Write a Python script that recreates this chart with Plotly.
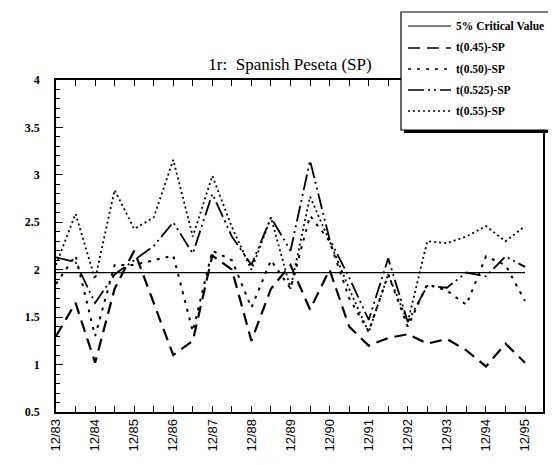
import plotly.graph_objects as go

periods = ["12/83","6/84","12/84","6/85","12/85","6/86","12/86","6/87","12/87","6/88","12/88","6/89",
           "12/89","6/90","12/90","6/91","12/91","6/92","12/92","6/93","12/93","6/94","12/94","6/95","12/95"]
tick_labels = [p if p.startswith("12/") else "" for p in periods]

series_names = ["5% Critical Value", "t(0.45)-SP", "t(0.50)-SP", "t(0.525)-SP", "t(0.55)-SP"]
critical = [1.97] * len(periods)
t045 = [1.30,1.65,1.02,1.80,2.20,1.65,1.10,1.25,2.15,2.00,1.25,1.80,2.05,1.58,2.00,1.40,1.20,1.28,1.32,1.22,1.27,1.15,0.98,1.22,1.02]
t050 = [1.85,2.15,1.30,2.05,2.05,2.10,2.15,1.35,2.20,2.10,1.60,2.10,1.80,2.57,2.30,1.70,1.35,1.95,1.40,1.85,1.78,1.63,2.14,2.05,1.67]
t0525 = [2.13,2.08,1.65,1.95,2.10,2.25,2.50,2.17,2.80,2.35,2.05,2.55,2.20,3.15,2.32,1.92,1.47,2.12,1.45,1.83,1.81,1.97,1.93,2.14,2.03]
t055 = [2.05,2.59,1.90,2.84,2.43,2.55,3.16,2.35,2.99,2.45,2.00,2.55,1.80,2.77,2.30,1.80,1.34,1.95,1.45,2.30,2.28,2.35,2.46,2.30,2.46]

styles = [
    dict(color="black", width=1.2),
    dict(color="black", width=2.2, dash="12px,7px"),
    dict(color="black", width=2, dash="3px,6px"),
    dict(color="black", width=1.8, dash="16px,4px,2px,4px,2px,4px"),
    dict(color="black", width=1.8, dash="2px,3px"),
]
data = [critical, t045, t050, t0525, t055]

x = list(range(len(periods)))

fig = go.Figure()
for name, ys, st in zip(series_names, data, styles):
    fig.add_trace(go.Scatter(x=x, y=ys, mode="lines", name=name, line=st, showlegend=False))

W, H = 556, 465
L, R, T, B = 48, 21, 72, 61
pw, ph = W - L - R, H - T - B

def px(pxv):
    return (pxv - L) / pw

def py(pyv):
    return (H - B - pyv) / ph

# manual legend box with drop shadow
fig.add_shape(type="rect", xref="paper", yref="paper",
              x0=px(396), x1=px(556), y0=py(125), y1=py(8),
              fillcolor="black", line=dict(width=0), layer="above")
fig.add_shape(type="rect", xref="paper", yref="paper",
              x0=px(393), x1=px(553), y0=py(122), y1=py(4),
              fillcolor="white", line=dict(color="black", width=1.2), layer="above")
rows = [18, 40, 61, 82, 103]
for name, st, ry in zip(series_names, styles, rows):
    fig.add_shape(type="line", xref="paper", yref="paper",
                  x0=px(400), x1=px(443), y0=py(ry), y1=py(ry),
                  line=dict(color="black", width=min(st["width"], 1.6), dash=st.get("dash", "solid")),
                  layer="above")
    fig.add_annotation(xref="paper", yref="paper", x=px(446), y=py(ry), text=name,
                       showarrow=False, xanchor="left", yanchor="middle",
                       font=dict(family="Liberation Serif", size=11.5, color="black", weight="bold"))

fig.update_layout(
    width=W, height=H,
    margin=dict(l=L, r=R, t=T, b=B),
    paper_bgcolor="white", plot_bgcolor="white",
    title=dict(text="1r:  Spanish Peseta (SP)", x=282 / W, xanchor="center",
               y=1 - 56 / H, yanchor="middle",
               font=dict(family="Liberation Serif", size=17, color="black")),
    showlegend=False,
    font=dict(family="Liberation Serif", color="black"),
)

fig.update_xaxes(
    range=[0, 24.92], tickmode="array", tickvals=x, ticktext=tick_labels,
    tickangle=-90, ticks="inside", ticklen=6, tickcolor="black",
    showline=True, linecolor="black", linewidth=1.5, mirror="allticks",
    showgrid=False, zeroline=False,
    tickfont=dict(family="Liberation Sans", size=13, color="black"),
)
fig.update_yaxes(
    range=[0.5, 4], tickmode="array", tickvals=[0.5,1,1.5,2,2.5,3,3.5,4],
    ticktext=["0.5","1","1.5","2","2.5","3","3.5","4"],
    ticks="inside", ticklen=7, tickcolor="black",
    minor=dict(dtick=0.1, ticks="inside", ticklen=4, tickcolor="black"),
    showline=True, linecolor="black", linewidth=1.5, mirror=True,
    showgrid=False, zeroline=False, ticklabelstandoff=12,
    tickfont=dict(family="Liberation Serif", size=12, color="black", weight="bold"),
)

fig.write_html("out.html")
